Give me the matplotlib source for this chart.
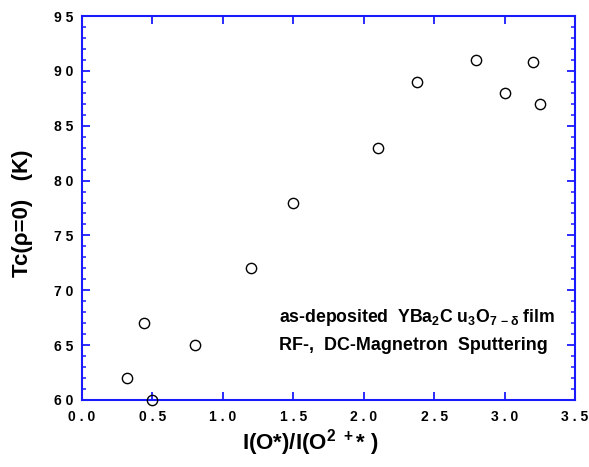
import matplotlib
matplotlib.use("Agg")
import matplotlib.pyplot as plt
from matplotlib.ticker import MultipleLocator, FixedLocator
from matplotlib.transforms import IdentityTransform

plt.rcParams['font.family'] = ['Liberation Sans', 'DejaVu Sans']
plt.rcParams['mathtext.default'] = 'regular'

# data
ratio = [0.32, 0.44, 0.50, 0.80, 1.20, 1.50, 2.10, 2.375, 2.80, 3.00, 3.20, 3.25]
tc = [62.0, 67.0, 60.0, 65.0, 72.0, 78.0, 83.0, 89.0, 91.0, 88.0, 90.8, 87.0]

x_ticks = [0.0, 0.5, 1.0, 1.5, 2.0, 2.5, 3.0, 3.5]
x_ticklabels = ["0 . 0", "0 . 5", "1 . 0", "1 . 5", "2 . 0", "2 . 5", "3 . 0", "3 . 5"]
y_ticks = [60, 65, 70, 75, 80, 85, 90, 95]
y_ticklabels = ["6 0", "6 5", "7 0", "7 5", "8 0", "8 5", "9 0", "9 5"]

blue = '#1a1aff'

fig = plt.figure(figsize=(5.89, 4.67), dpi=100)
ax = fig.add_axes([82/589, 1-400/467, (575-82)/589, (400-16)/467])

ax.plot(ratio, tc, linestyle='none', marker='o', markersize=7.4,
        markerfacecolor='none', markeredgecolor='black', markeredgewidth=1.0,
        clip_on=False, zorder=5)

ax.set_xlim(0, 3.5)
ax.set_ylim(60, 95)

ax.xaxis.set_major_locator(FixedLocator(x_ticks))
ax.set_xticklabels(x_ticklabels)
ax.yaxis.set_major_locator(FixedLocator(y_ticks))
ax.set_yticklabels(y_ticklabels)
ax.yaxis.set_minor_locator(MultipleLocator(1))

for s in ax.spines.values():
    s.set_color(blue)
    s.set_linewidth(1.5)

ax.tick_params(axis='both', which='major', direction='in', length=6, width=1.3,
               color=blue, labelcolor='black', top=True, right=True, labelsize=10)
ax.tick_params(axis='x', which='major', pad=7)
ax.tick_params(axis='y', which='major', pad=6)
ax.tick_params(axis='y', which='minor', direction='in', length=3, width=1.1,
               color=blue, right=True)
for lab in ax.get_xticklabels() + ax.get_yticklabels():
    lab.set_fontweight('bold')

ax.set_xlabel(r"I(O*)/I(O$^{2\ +}$* )", fontsize=16, fontweight='bold')
ax.xaxis.set_label_coords((310-82)/493, (400-427)/384)
ax.set_ylabel("Tc(ρ=0)   (K)", fontsize=16, fontweight='bold')
ax.yaxis.set_label_coords((33-82)/493, (400-213)/384)

ax.text(279, 467-322, r"as-deposited  YBa$_2$C u$_3$O$_{7\,-\delta}$ film",
        transform=IdentityTransform(), fontsize=12.7, fontweight='bold')
ax.text(279, 467-350, "RF-,  DC-Magnetron  Sputtering",
        transform=IdentityTransform(), fontsize=12.9, fontweight='bold')

fig.savefig("out.png", dpi=100)
